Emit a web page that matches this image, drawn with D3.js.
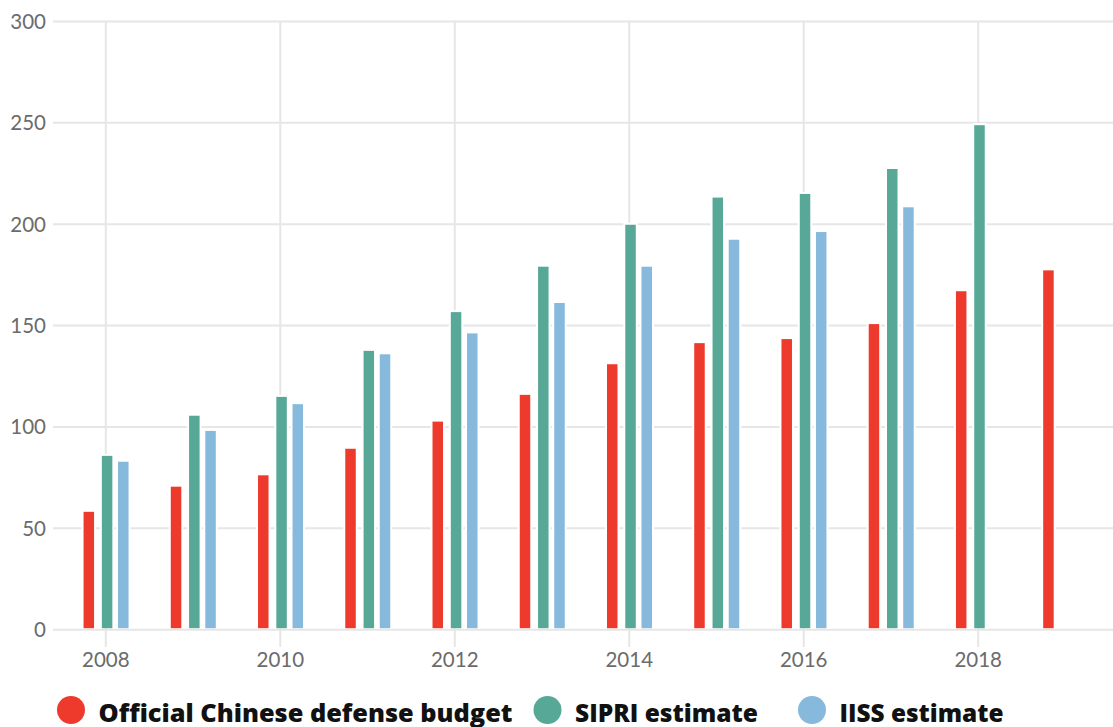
<!DOCTYPE html>
<html>
<head>
<meta charset="utf-8">
<script src="https://cdn.jsdelivr.net/npm/d3@7"></script>
<style>
  html, body { margin: 0; padding: 0; background: #fff; }
  svg { display: block; }
  .axis text { font-family: Lato, "Open Sans", sans-serif; font-size: 20.5px; fill: #6b6b6b; }
  .axis line { stroke: #e6e6e6; stroke-width: 2px; }
  .axis path.domain { display: none; }
  .legend text { font-family: "Open Sans", sans-serif; font-weight: 800; font-size: 24px; fill: #111; }
</style>
</head>
<body>
<svg id="chart" width="1113" height="727"></svg>
<script>
// China military spending, billions of US dollars
const years    = [2008, 2009, 2010, 2011, 2012, 2013, 2014, 2015, 2016, 2017, 2018, 2019];
const official = [57.9, 70.3, 75.9, 89.0, 102.4, 115.6, 130.7, 141.1, 143.1, 150.5, 166.7, 177.0];
const sipri    = [85.5, 105.3, 114.6, 137.3, 156.4, 178.8, 199.5, 212.9, 214.7, 227.0, 248.6, null];
const iiss     = [82.6, 97.8, 111.0, 135.6, 145.9, 160.9, 178.8, 192.1, 195.9, 208.1, null, null];

const yTicks = [0, 50, 100, 150, 200, 250, 300];
const xTicks = [2008, 2010, 2012, 2014, 2016, 2018];

const seriesNames  = ["Official Chinese defense budget", "SIPRI estimate", "IISS estimate"];
const seriesColors = ["#ee3a2c", "#58a897", "#86b9dc"];

const svg = d3.select("#chart");
const W = 1113;

const plotLeft = 53, plotTop = 21, plotBottom = 629.2, tickBottom = 647;

const y = d3.scaleLinear().domain([0, 300]).range([plotBottom, plotTop]);
const x = d3.scaleLinear().domain([2008, 2018]).range([105.3, 977.7]);

// offset of each series' bar centre from the year position
const offsets = [-16.5, 1.8, 18.0];
const barW = 10.5;

// horizontal gridlines + y labels
svg.append("g")
  .attr("class", "axis y")
  .attr("transform", `translate(${W},0)`)
  .call(d3.axisLeft(y).tickValues(yTicks).tickSize(W - plotLeft).tickPadding(7).tickFormat(d3.format("d")))
  .call(g => g.selectAll("text").attr("dy", "0.36em"));

// vertical gridlines + year labels
svg.append("g")
  .attr("class", "axis x")
  .attr("transform", `translate(0,${tickBottom})`)
  .call(d3.axisBottom(x).tickValues(xTicks).tickSize(-(tickBottom - plotTop)).tickPadding(5).tickFormat(d3.format("d")));

const series = [official, sipri, iiss].map((vals, i) =>
  years.map((yr, j) => ({ year: yr, value: vals[j], s: i })).filter(d => d.value != null)
);
const all = series.flat();

const bars = svg.append("g");
// white halo that knocks gridlines out around each bar
bars.selectAll("rect.halo")
  .data(all)
  .join("rect")
  .attr("class", "halo")
  .attr("x", d => x(d.year) + offsets[d.s] - barW / 2 - 2)
  .attr("width", barW + 4)
  .attr("y", d => y(d.value) - 2)
  .attr("height", d => y(0) - 1 - y(d.value) + 2)
  .attr("fill", "#fff");

bars.selectAll("rect.bar")
  .data(all)
  .join("rect")
  .attr("class", "bar")
  .attr("x", d => x(d.year) + offsets[d.s] - barW / 2)
  .attr("width", barW)
  .attr("y", d => y(d.value))
  .attr("height", d => y(0) - 1 - y(d.value))
  .attr("fill", d => seriesColors[d.s]);

// legend
const legendCx = [71, 547.5, 812];
const legendW  = [414, 183, 164];
const legend = svg.append("g").attr("class", "legend");
const items = legend.selectAll("g")
  .data(seriesNames)
  .join("g")
  .attr("transform", (d, i) => `translate(${legendCx[i]},710)`);
items.append("circle").attr("r", 14).attr("fill", (d, i) => seriesColors[i]);
items.append("text")
  .attr("x", 27.5)
  .attr("y", 11.5)
  .attr("textLength", (d, i) => legendW[i])
  .attr("lengthAdjust", "spacingAndGlyphs")
  .text(d => d);
</script>
</body>
</html>
